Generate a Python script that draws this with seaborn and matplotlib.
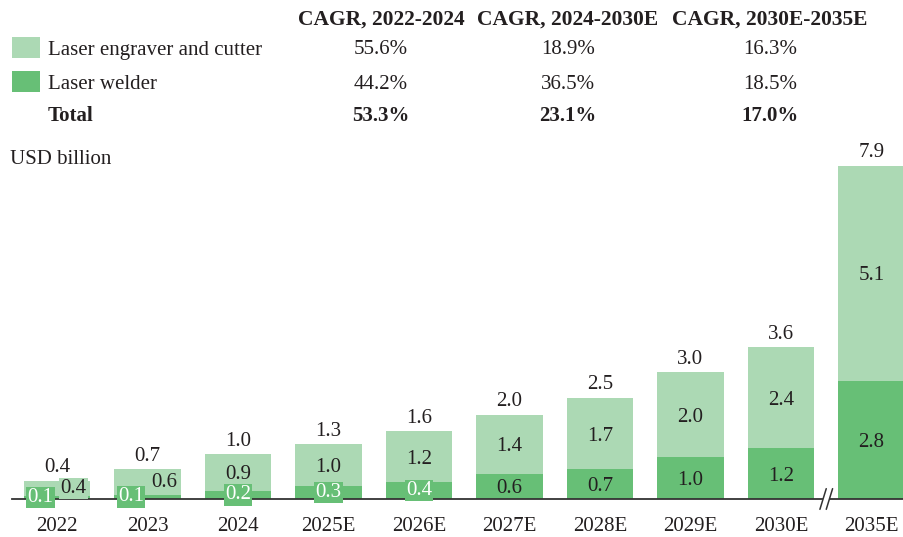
import matplotlib
matplotlib.use("Agg")
import matplotlib.pyplot as plt
import seaborn as sns
import pandas as pd
from matplotlib.lines import Line2D
from matplotlib.patches import Rectangle

years = ["2022", "2023", "2024", "2025E", "2026E", "2027E", "2028E", "2029E", "2030E", "2035E"]
engraver = [0.36, 0.6, 0.86, 1.0, 1.2, 1.4, 1.7, 2.0, 2.4, 5.1]
welder = [0.07, 0.1, 0.2, 0.3, 0.4, 0.6, 0.7, 1.0, 1.2, 2.8]
engraver_labels = ["0.4", "0.6", "0.9", "1.0", "1.2", "1.4", "1.7", "2.0", "2.4", "5.1"]
welder_labels = ["0.1", "0.1", "0.2", "0.3", "0.4", "0.6", "0.7", "1.0", "1.2", "2.8"]
total_labels = ["0.4", "0.7", "1.0", "1.3", "1.6", "2.0", "2.5", "3.0", "3.6", "7.9"]

series_names = ["Laser engraver and cutter", "Laser welder", "Total"]
cagr_headers = ["CAGR, 2022-2024", "CAGR, 2024-2030E", "CAGR, 2030E-2035E"]
cagr_engraver = ["55.6%", "18.9%", "16.3%"]
cagr_welder = ["44.2%", "36.5%", "18.5%"]
cagr_total = ["53.3%", "23.1%", "17.0%"]

LIGHT = "#acd9b4"
DARK = "#67bf76"
TXT = "#231f20"
W = 904
H = 537

sns.set_theme(style="white")
plt.rcParams["font.family"] = ["Liberation Serif", "DejaVu Serif"]

df = pd.DataFrame({"year": years, "engraver": engraver, "welder": welder})
df["total"] = df["engraver"] + df["welder"]

fig = plt.figure(figsize=(W / 100, H / 100), dpi=100)
ax = fig.add_axes([12 / W, (H - 499) / H, 892 / W, 369 / H])

sns.barplot(data=df, x="year", y="total", color=LIGHT, width=0.73, saturation=1, ax=ax, order=years)
sns.barplot(data=df, x="year", y="welder", color=DARK, width=0.73, saturation=1, ax=ax, order=years)
for p in ax.patches:
    p.set_edgecolor("none")

FS = 15
ax.set_xlim((12 - 57) / 90.5, (904 - 57) / 90.5)
ax.set_ylim(0, 369 / 42.2)
ax.set_xlabel("")
ax.set_ylabel("")
ax.set_yticks([])
for s in ["left", "right", "top"]:
    ax.spines[s].set_visible(False)
ax.spines["bottom"].set_color("#333333")
ax.spines["bottom"].set_linewidth(1.3)
ax.tick_params(axis="x", length=0, pad=13, labelsize=FS, labelcolor=TXT)

VA = "center_baseline"
for i in range(len(years)):
    e, w = engraver[i], welder[i]
    t = e + w
    ax.annotate(total_labels[i], (i, t), xytext=(0, 2.5), textcoords="offset points",
                ha="center", va="bottom", fontsize=FS, color=TXT)
    dx_e = 0.18 if i < 2 else 0
    dx_w = -0.18 if i < 2 else 0
    if i < 2:
        ax.text(i + dx_e, w + e / 2, engraver_labels[i], ha="center", va="center", fontsize=FS, color=TXT,
                bbox=dict(boxstyle="square,pad=0.06", fc=LIGHT, ec="none"))
    else:
        ax.text(i, w + e / 2, engraver_labels[i], ha="center", va=VA, fontsize=FS, color=TXT)
    if i < 5:
        ax.text(i + dx_w, w / 2, welder_labels[i], ha="center", va="center", fontsize=FS, color="white",
                bbox=dict(boxstyle="square,pad=0.06", fc=DARK, ec="none"))
    else:
        ax.text(i, w / 2, welder_labels[i], ha="center", va=VA, fontsize=FS, color=TXT)

# axis break
bx = 8.5
trans = ax.get_xaxis_transform()
ax.add_patch(Rectangle((bx - 0.035, -0.02), 0.07, 0.04, transform=trans, fc="white", ec="none",
                       clip_on=False, zorder=5))
for off in (-0.035, 0.035):
    ax.add_line(Line2D([bx + off - 0.035, bx + off + 0.035], [-0.028, 0.028], transform=trans,
                       color="#333333", lw=1.1, clip_on=False, zorder=6))

fig.text(10 / W, 1 - 160 / H, "USD billion", ha="left", va="center", fontsize=FS, color=TXT)

col_x = [381, 568, 770]
row_y = [50, 84, 116]
for cx, hdr in zip(col_x, cagr_headers):
    fig.text(cx / W, 1 - 20 / H, hdr, ha="center", va="center", fontsize=15.5, fontweight="bold", color=TXT)
fig.patches.append(Rectangle((12 / W, 1 - 58 / H), 28 / W, 21 / H, transform=fig.transFigure,
                             fc=LIGHT, ec="none"))
fig.patches.append(Rectangle((12 / W, 1 - 92 / H), 28 / W, 21 / H, transform=fig.transFigure,
                             fc=DARK, ec="none"))
for j, (name, vals) in enumerate(zip(series_names, [cagr_engraver, cagr_welder, cagr_total])):
    bold = j == 2
    fig.text(48 / W, 1 - row_y[j] / H, name, ha="left", va="center", fontsize=FS, color=TXT,
             fontweight="bold" if bold else "normal")
    for cx, v in zip(col_x, vals):
        fig.text(cx / W, 1 - row_y[j] / H, v, ha="center", va="center", fontsize=FS, color=TXT,
                 fontweight="bold" if bold else "normal")

fig.savefig("out.png", dpi=100)
